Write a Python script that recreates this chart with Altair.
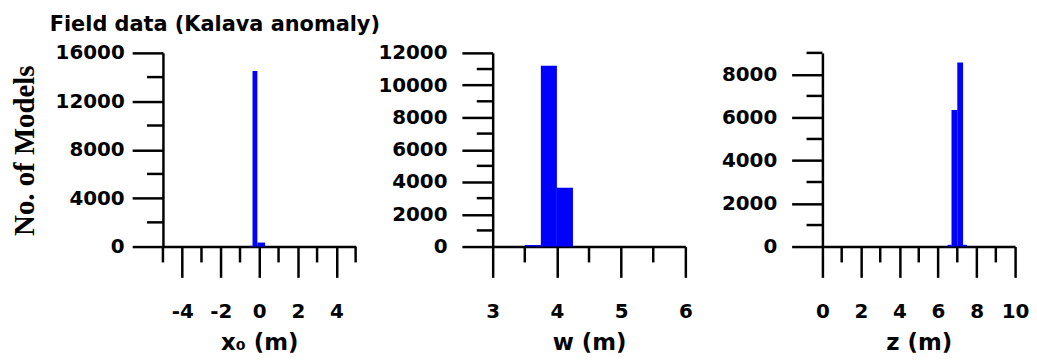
import altair as alt
import pandas as pd

# ---- data (histogram bins: lower edge, upper edge, count) ----
x0_lo = [-0.5, -0.35, -0.1]
x0_hi = [-0.35, -0.1, 0.3]
x0_cnt = [60, 14500, 330]

w_lo = [3.5, 3.75, 4.0]
w_hi = [3.75, 4.0, 4.25]
w_cnt = [90, 11200, 3650]

z_lo = [6.5, 6.7, 7.0, 7.3]
z_hi = [6.7, 7.0, 7.3, 7.5]
z_cnt = [80, 6350, 8550, 80]

# axis ticks
x0_major = [-4, -2, 0, 2, 4]
x0_minor = [-5, -3, -1, 1, 3, 5]
x0_ymajor = [0, 4000, 8000, 12000, 16000]
x0_yminor = [2000, 6000, 10000, 14000]

w_major = [3, 4, 5, 6]
w_minor = [3.5, 4.5, 5.5]
w_ymajor = [0, 2000, 4000, 6000, 8000, 10000, 12000]
w_yminor = [1000, 3000, 5000, 7000, 9000, 11000]

z_major = [0, 2, 4, 6, 8, 10]
z_minor = [1, 3, 5, 7, 9]
z_ymajor = [0, 2000, 4000, 6000, 8000]
z_yminor = [1000, 3000, 5000, 7000, 9000]

W = 194
H = 195
BLUE = "#0000ff"
LBL_FONT = "DejaVu Sans"


def panel(lo, hi, cnt, xdom, xmaj, xmin, ydom, ymaj, ymin, xtitle,
          ylabpad, ytitle=None):
    df = pd.DataFrame({"lo": lo, "hi": hi, "n": cnt})
    xs = alt.Scale(domain=xdom, nice=False, zero=False)
    ys = alt.Scale(domain=ydom, nice=False)

    xaxis = alt.Axis(values=xmaj, labelExpr="'' + datum.value", title=xtitle,
                     tickSize=31, labelPadding=24, titleBaseline="alphabetic",
                     titleY=104, titleFontSize=23)
    yargs = dict(values=ymaj, labelExpr="'' + datum.value", tickSize=31,
                 labelPadding=ylabpad)
    if ytitle:
        yargs.update(title=ytitle, titleFont="Liberation Serif", titleFontSize=29,
                     titleAngle=-90, titleBaseline="alphabetic", titleAlign="center",
                     titleX=-130, titleY=98)
    else:
        yargs.update(title="")
    yaxis = alt.Axis(**yargs)

    bars = alt.Chart(df).mark_rect(color=BLUE).encode(
        x=alt.X("lo:Q", scale=xs, axis=xaxis),
        x2="hi:Q",
        y=alt.Y("n:Q", scale=ys, axis=yaxis),
        y2=alt.datum(0),
    )
    xminor = alt.Chart(pd.DataFrame({"v": xmin})).mark_rule(
        color="black", strokeWidth=2.5).encode(
        x=alt.X("v:Q", scale=xs, axis=xaxis),
        y=alt.value(H), y2=alt.value(H + 16))
    yminor = alt.Chart(pd.DataFrame({"v": ymin})).mark_rule(
        color="black", strokeWidth=2.5).encode(
        y=alt.Y("v:Q", scale=ys, axis=yaxis),
        x=alt.value(-16), x2=alt.value(0))
    return alt.layer(bars, xminor, yminor).properties(width=W, height=H)


p1 = panel(x0_lo, x0_hi, x0_cnt, [-5, 5], x0_major, x0_minor, [0, 16000],
           x0_ymajor, x0_yminor, "x₀ (m)", 8, ytitle="No. of Models")
p2 = panel(w_lo, w_hi, w_cnt, [3, 6], w_major, w_minor, [0, 12000],
           w_ymajor, w_yminor, "w (m)", 15)
p3 = panel(z_lo, z_hi, z_cnt, [0, 10], z_major, z_minor, [0, 9000],
           z_ymajor, z_yminor, "z (m)", 15)

chart = alt.hconcat(p1, p2, p3, spacing=138, bounds="flush").properties(
    title=alt.TitleParams("Field data (Kalava anomaly)", anchor="start",
                          frame="bounds", dx=39, offset=8, fontSize=21,
                          font=LBL_FONT, fontWeight="bold", color="black"),
    padding={"left": 3, "top": 5, "right": 0, "bottom": 0},
).configure_view(stroke=None).configure_axis(
    grid=False, domainColor="black", domainWidth=2.5, tickColor="black",
    tickWidth=2.5, tickSize=31, labelFont=LBL_FONT, labelFontWeight="bold",
    labelFontSize=20, labelColor="black", titleFont=LBL_FONT,
    titleFontWeight="bold", titleColor="black", labelFlush=False,
    labelOverlap=False,
)

chart.save("out.html", embed_options={"renderer": "svg", "actions": False})
